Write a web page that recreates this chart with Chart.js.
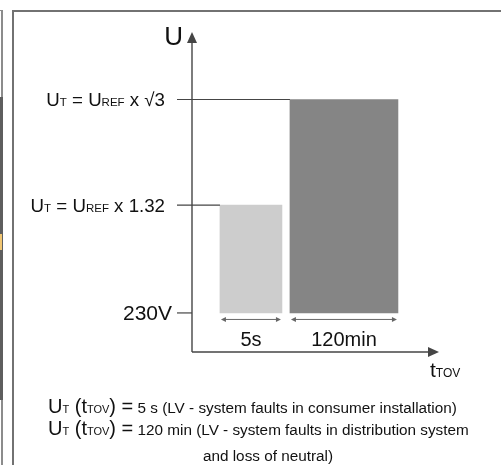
<!DOCTYPE html>
<html>
<head>
<meta charset="utf-8">
<script src="https://cdn.jsdelivr.net/npm/chart.js@4.4.1/dist/chart.umd.min.js"></script>
<style>
    html, body { margin: 0; padding: 0; background: #fff; }
    #wrap { position: relative; width: 501px; height: 465px; overflow: hidden; }
    .edge { position: absolute; }
    canvas { position: absolute; left: 0; top: 0; }
</style>
</head>
<body>
<div id="wrap">
    <div class="edge" style="left:1px;top:10px;width:2px;height:455px;background:#8c8c8c"></div>
    <div class="edge" style="left:0;top:10px;width:3px;height:1px;background:#8c8c8c"></div>
    <div class="edge" style="left:0;top:97px;width:3px;height:303px;background:#5e5e5e"></div>
    <div class="edge" style="left:0;top:234px;width:2px;height:16px;background:#f1c672"></div>
    <div class="edge" style="left:12px;top:10px;width:2px;height:455px;background:#727272"></div>
    <div class="edge" style="left:12px;top:10px;width:489px;height:2px;background:#727272"></div>
    <canvas id="c" width="501" height="465"></canvas>
</div>
<script>
// chart values
const durations = ["5s", "120min"]
const baseVoltage = 230
const faultVoltages = [303.6, 398.4] // 230 x 1.32, 230 x sqrt(3)
const baseLabel = "230V"
const levelLabels = ["U{T} = U{REF} x 1.32", "U{T} = U{REF} x √3"]
const yAxisLabel = "U"
const xAxisLabel = "t{TOV}"
const notePrefix = "U{T} (t{TOV}) ="
const noteLines = [
    "5 s (LV - system faults in consumer installation)",
    "120 min (LV - system faults in distribution system",
    "and loss of neutral)",
]

const barColors = ["#cdcdcd", "#858585"]
const barWidths = [62, 108]
const axisColor = "#454545"
const textColor = "#111"
const FONT = "'Liberation Sans', Arial, Helvetica, sans-serif"

// "U{T}" -> U normal, T small
const parseRich = (str) => {
    const parts = []
    const re = /([^{]+)|\{([^}]*)\}/g
    let m
    while ((m = re.exec(str))) {
        if (m[1]) parts.push({ text: m[1], sub: false })
        else parts.push({ text: m[2], sub: true })
    }
    return parts
}

const drawRich = (ctx, str, x, y, size, subSize, align) => {
    const parts = parseRich(str)
    const fonts = parts.map((p) => (p.sub ? subSize : size) + "px " + FONT)
    let total = 0
    const widths = parts.map((p, i) => {
        ctx.font = fonts[i]
        const w = ctx.measureText(p.text).width
        total += w
        return w
    })
    let cx = align === "right" ? x - total : align === "center" ? x - total / 2 : x
    ctx.textAlign = "left"
    ctx.textBaseline = "alphabetic"
    parts.forEach((p, i) => {
        ctx.font = fonts[i]
        ctx.fillText(p.text, cx, y)
        cx += widths[i]
    })
    return cx
}

const diagramPlugin = {
    id: "diagram",
    afterDatasetsDraw(chart) {
        const { ctx, chartArea: area, scales } = chart
        const y = scales.y
        const bars = chart.data.datasets.map((d, i) => chart.getDatasetMeta(i).data[0])

        const line = (x1, y1, x2, y2) => {
            ctx.beginPath()
            ctx.moveTo(x1, y1)
            ctx.lineTo(x2, y2)
            ctx.stroke()
        }
        const tri = (pts) => {
            ctx.beginPath()
            ctx.moveTo(pts[0], pts[1])
            ctx.lineTo(pts[2], pts[3])
            ctx.lineTo(pts[4], pts[5])
            ctx.closePath()
            ctx.fill()
        }

        ctx.save()
        ctx.strokeStyle = axisColor
        ctx.fillStyle = axisColor
        ctx.lineWidth = 1.4

        // axes with arrow heads
        line(area.left, area.bottom, area.left, area.top + 8)
        tri([area.left, area.top, area.left - 5, area.top + 11, area.left + 5, area.top + 11])
        line(area.left, area.bottom, area.right - 8, area.bottom)
        tri([area.right, area.bottom, area.right - 11, area.bottom - 5, area.right - 11, area.bottom + 5])

        // level ticks
        ctx.lineWidth = 1.2
        const baseY = y.getPixelForValue(baseVoltage)
        line(area.left - 15, baseY, area.left, baseY)
        faultVoltages.forEach((v, i) => {
            const py = y.getPixelForValue(v)
            const bar = bars[i]
            line(area.left - 15, py, bar.x - bar.width / 2, py)
        })

        // duration arrows under the bars
        ctx.strokeStyle = "#666"
        ctx.fillStyle = "#666"
        ctx.lineWidth = 1
        bars.forEach((bar) => {
            const l = bar.x - bar.width / 2 + 1
            const r = bar.x + bar.width / 2 - 1
            const ay = bar.base + 6.5
            line(l + 2, ay, r - 2, ay)
            tri([l, ay, l + 5, ay - 2.5, l + 5, ay + 2.5])
            tri([r, ay, r - 5, ay - 2.5, r - 5, ay + 2.5])
        })

        // text
        ctx.fillStyle = textColor
        drawRich(ctx, baseLabel, area.left - 20, baseY + 7.5, 21, 12, "right")
        faultVoltages.forEach((v, i) => {
            const py = y.getPixelForValue(v)
            drawRich(ctx, levelLabels[i], area.left - 27, py + 6.5, 18.7, 11.5, "right")
        })
        bars.forEach((bar, i) => {
            drawRich(ctx, durations[i], bar.x, bar.base + 33, 20, 12, "center")
        })
        drawRich(ctx, yAxisLabel, area.left - 9, area.top + 13, 26, 14, "right")
        drawRich(ctx, xAxisLabel, area.right - 9, area.bottom + 25, 21, 12, "left")

        // notes below the chart
        const noteX = 48
        const noteBase = [area.bottom + 61, area.bottom + 83, area.bottom + 109]
        noteLines.forEach((txt, i) => {
            if (i < 2) {
                const end = drawRich(ctx, notePrefix, noteX, noteBase[i], 20, 11, "left")
                drawRich(ctx, " " + txt, end, noteBase[i], 15.3, 11, "left")
            } else {
                drawRich(ctx, txt, 268, noteBase[i], 15.3, 11, "center")
            }
        })
        ctx.restore()
    },
}

new Chart(document.getElementById("c"), {
    type: "bar",
    data: {
        datasets: durations.map((d, i) => ({
            label: d,
            data: [{ x: i + 1, y: [baseVoltage, faultVoltages[i]] }],
            backgroundColor: barColors[i],
            barThickness: barWidths[i],
            grouped: false,
        })),
    },
    options: {
        responsive: false,
        animation: false,
        devicePixelRatio: 1,
        layout: { padding: { left: 192, top: 32, right: 62, bottom: 113 } },
        plugins: {
            legend: { display: false },
            tooltip: { enabled: false },
        },
        scales: {
            x: { type: "linear", offset: false, min: 0.366, max: 3.022, display: false },
            y: { type: "logarithmic", min: 208, max: 474, display: false },
        },
    },
    plugins: [diagramPlugin],
})
</script>
</body>
</html>
